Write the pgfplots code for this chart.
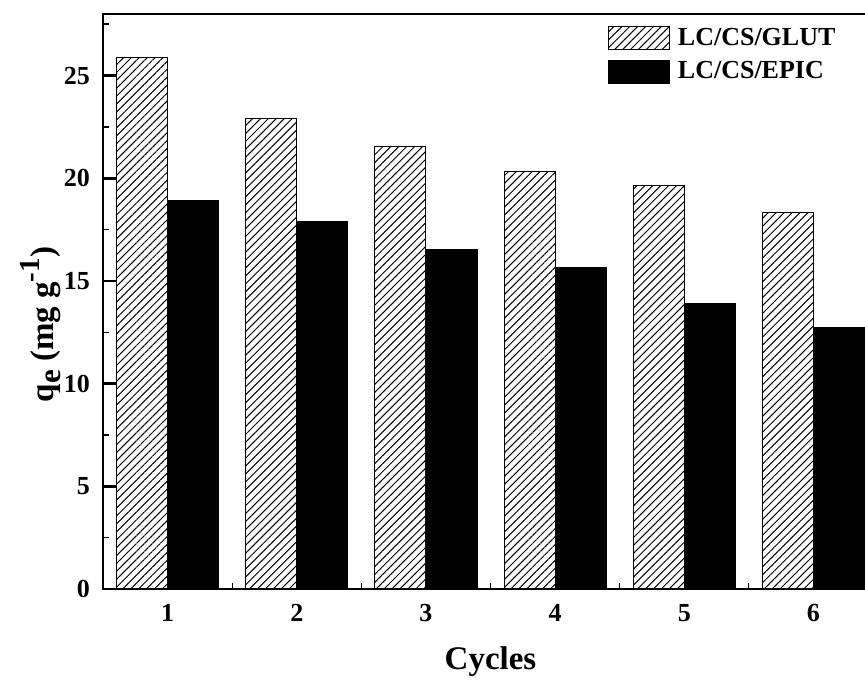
\documentclass[border=0pt]{standalone}
\usepackage{pgfplots}
\pgfplotsset{compat=1.18}
\usetikzlibrary{patterns.meta}
\usepackage{fontspec}
\setmainfont{Liberation Serif}
\begin{document}
\begin{tikzpicture}
\begin{axis}[
  name=ax,
  scale only axis,
  axis on top,
  width=387.5pt, height=287.5pt,
  xmin=0.5, xmax=6.5, ymin=0, ymax=28,
  ybar=0pt, bar width=25.5pt,
  axis line style={line width=1pt},
  xtick={1,2,3,4,5,6},
  major x tick style={draw=none},
  minor x tick style={line width=0.6pt, black},
  minor xtick={1.5,2.5,3.5,4.5,5.5},
  ytick={0,5,10,15,20,25},
  major y tick style={line width=1.4pt, black},
  minor ytick={2.5,7.5,12.5,17.5,22.5,27.5},
  minor y tick style={line width=0.8pt, black},
  tick pos=left,
  tick align=inside,
  major tick length=7pt, minor tick length=3.2pt,
  /pgf/number format/assume math mode=true,
  tick label style={font=\bfseries\fontsize{13}{15}\selectfont},
  xticklabel style={yshift=-4pt},
  yticklabel style={xshift=-3pt},
  xlabel={\bfseries Cycles},
  ylabel={\bfseries q\raisebox{-3.5pt}{\fontsize{15.5}{15}\selectfont e} (mg g\raisebox{7pt}{\fontsize{14.5}{14}\selectfont -1})},
  label style={font=\bfseries\fontsize{16.5}{18}\selectfont},
  xlabel style={at={(axis description cs:0.5,0)}, anchor=center, yshift=-36.5pt},
  ylabel style={at={(axis description cs:-0.08,0.46)}, anchor=center},
  legend cell align=left,
  legend style={draw=none, fill=none, at={(axis description cs:0.651,0.983)}, anchor=north west,
    font=\bfseries\fontsize{13}{15}\selectfont, row sep=2.6pt, inner sep=0pt,
    nodes={inner xsep=4pt}},
  legend image code/.code={\draw[#1] (0pt,-5.75pt) rectangle (30.5pt,5.75pt);},
]
\addplot[draw=black, line width=0.5pt, pattern={Lines[angle=45,distance=2.8pt,line width=0.5pt]}, pattern color=black]
  coordinates {(1,25.88) (2,22.92) (3,21.53) (4,20.35) (5,19.63) (6,18.35)};
\addplot[draw=black, fill=black]
  coordinates {(1,18.90) (2,17.88) (3,16.54) (4,15.64) (5,13.91) (6,12.72)};
\legend{LC/CS/GLUT, LC/CS/EPIC}
\end{axis}
\pgfresetboundingbox
\path[use as bounding box] ([xshift=-51.5pt,yshift=-45.5pt]ax.south west) rectangle ([xshift=381pt,yshift=294.5pt]ax.south west);
\end{tikzpicture}
\end{document}
